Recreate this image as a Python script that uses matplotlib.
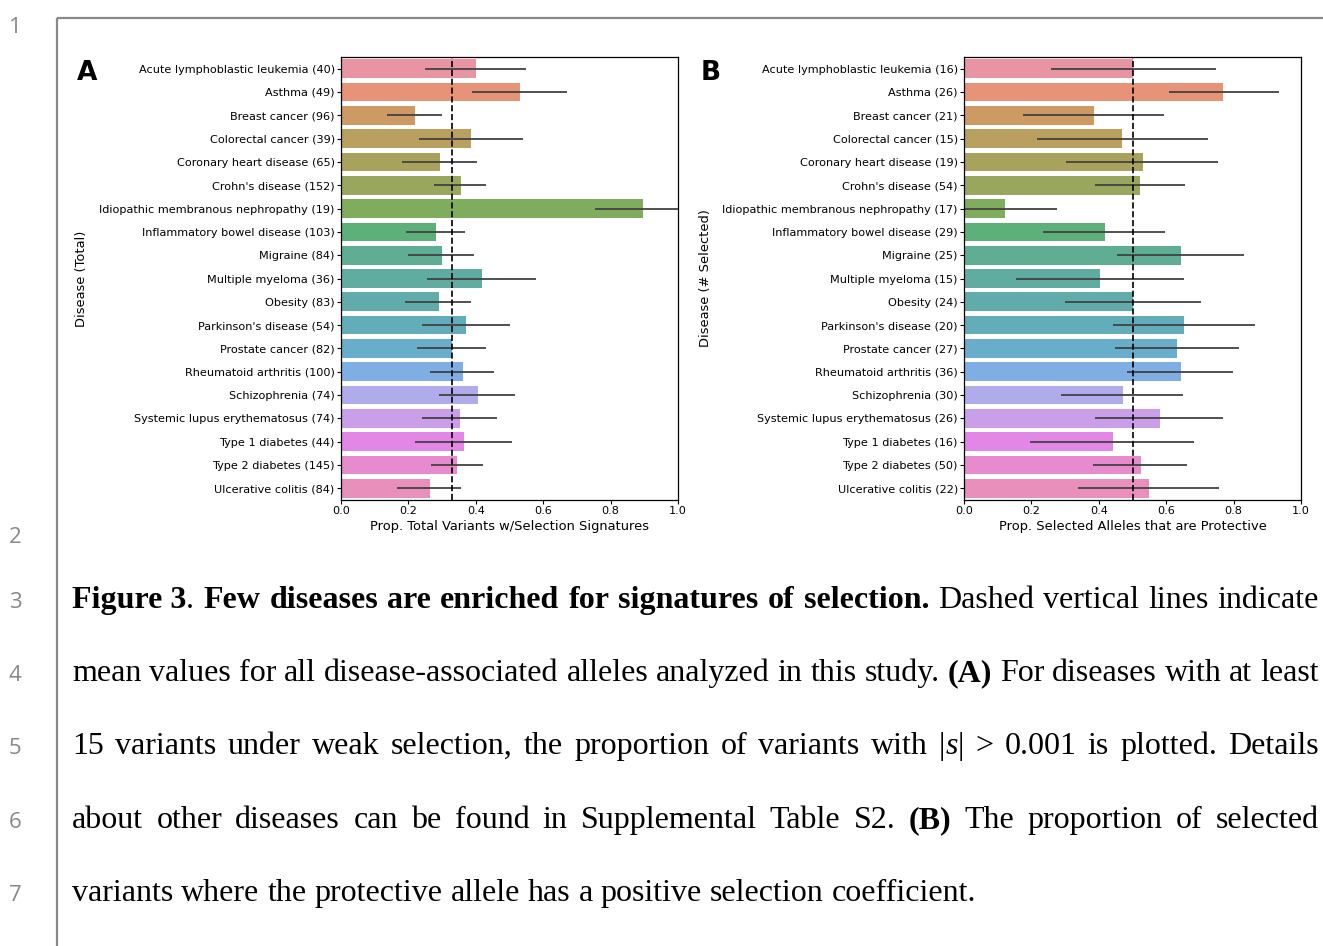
import numpy as np
import matplotlib
matplotlib.use("Agg")
import matplotlib.pyplot as plt
import seaborn as sns

diseases = ["Acute lymphoblastic leukemia", "Asthma", "Breast cancer", "Colorectal cancer",
            "Coronary heart disease", "Crohn's disease", "Idiopathic membranous nephropathy",
            "Inflammatory bowel disease", "Migraine", "Multiple myeloma", "Obesity",
            "Parkinson's disease", "Prostate cancer", "Rheumatoid arthritis", "Schizophrenia",
            "Systemic lupus erythematosus", "Type 1 diabetes", "Type 2 diabetes", "Ulcerative colitis"]
n_total = [40, 49, 96, 39, 65, 152, 19, 103, 84, 36, 83, 54, 82, 100, 74, 74, 44, 145, 84]
n_selected = [16, 26, 21, 15, 19, 54, 17, 29, 25, 15, 24, 20, 27, 36, 30, 26, 16, 50, 22]

# panel A: proportion of variants with selection signatures, with CI
prop_sel = [0.40, 0.531, 0.22, 0.385, 0.294, 0.355, 0.895, 0.281, 0.299, 0.418,
            0.29, 0.37, 0.329, 0.362, 0.406, 0.352, 0.364, 0.344, 0.263]
prop_sel_lo = [0.25, 0.39, 0.136, 0.23, 0.18, 0.277, 0.755, 0.194, 0.199, 0.254,
               0.191, 0.24, 0.226, 0.264, 0.292, 0.24, 0.22, 0.266, 0.167]
prop_sel_hi = [0.55, 0.67, 0.30, 0.54, 0.403, 0.431, 1.0, 0.369, 0.396, 0.578,
               0.387, 0.50, 0.431, 0.454, 0.517, 0.463, 0.506, 0.422, 0.356]
mean_sel = 0.33

# panel B: proportion of selected alleles that are protective, with CI
prop_prot = [0.502, 0.77, 0.385, 0.47, 0.53, 0.521, 0.121, 0.418, 0.643, 0.403,
             0.50, 0.652, 0.631, 0.643, 0.471, 0.581, 0.441, 0.524, 0.548]
prop_prot_lo = [0.257, 0.608, 0.175, 0.216, 0.304, 0.388, 0.0, 0.235, 0.454, 0.154,
                0.30, 0.442, 0.449, 0.483, 0.289, 0.389, 0.196, 0.382, 0.339]
prop_prot_hi = [0.748, 0.934, 0.593, 0.723, 0.755, 0.655, 0.275, 0.596, 0.832, 0.652,
                0.703, 0.863, 0.815, 0.798, 0.649, 0.77, 0.683, 0.661, 0.756]
mean_prot = 0.5

caption = [
    [[("Figure 3", "bold", "normal"), (".", "normal", "normal")], [("Few", "bold", "normal")],
     [("diseases", "bold", "normal")], [("are", "bold", "normal")], [("enriched", "bold", "normal")],
     [("for", "bold", "normal")], [("signatures", "bold", "normal")], [("of", "bold", "normal")],
     [("selection.", "bold", "normal")], "Dashed", "vertical", "lines", "indicate"],
    "mean values for all disease-associated alleles analyzed in this study.".split()
    + [[("(A)", "bold", "normal")]] + "For diseases with at least".split(),
    "15 variants under weak selection, the proportion of variants with".split()
    + [[("|", "normal", "normal"), ("s", "normal", "italic"), ("|", "normal", "normal")]]
    + "> 0.001 is plotted. Details".split(),
    "about other diseases can be found in Supplemental Table S2.".split()
    + [[("(B)", "bold", "normal")]] + "The proportion of selected".split(),
    "variants where the protective allele has a positive selection coefficient.".split(),
]

W, H = 1323, 946
fig = plt.figure(figsize=(W / 100, H / 100), dpi=100)

page = fig.add_axes([0, 0, 1, 1])
page.set_xlim(0, W)
page.set_ylim(H, 0)
page.axis("off")

colors = [sns.desaturate(c, 0.75) for c in sns.color_palette("husl", len(diseases))]
pos = np.arange(len(diseases))


def panel(rect, vals, lo, hi, counts, mean, xlabel, ylabel):
    ax = fig.add_axes(rect)
    ax.barh(pos, vals, height=0.8, color=colors, alpha=0.85)
    ax.hlines(pos, lo, hi, color="0.26", lw=1.3)
    ax.axvline(mean, color="k", ls="--", lw=1.2)
    ax.set_xlim(0, 1)
    ax.set_ylim(len(diseases) - 0.5, -0.5)
    ax.set_yticks(pos)
    ax.set_yticklabels([f"{d} ({n})" for d, n in zip(diseases, counts)], fontsize=8.1)
    ax.set_xticks(np.arange(0, 1.01, 0.2))
    ax.set_xticklabels([f"{v:.1f}" for v in np.arange(0, 1.01, 0.2)], fontsize=8.1)
    ax.tick_params(length=3, width=0.8, pad=1.5)
    ax.set_xlabel(xlabel, fontsize=9.4, labelpad=2.5)
    ax.set_ylabel(ylabel, fontsize=9.4)
    for s in ax.spines.values():
        s.set_linewidth(0.9)
    return ax


axA = panel([341 / W, 1 - 500 / H, 337 / W, 443 / H], prop_sel, prop_sel_lo, prop_sel_hi,
            n_total, mean_sel, "Prop. Total Variants w/Selection Signatures", "Disease (Total)")
axA.yaxis.set_label_coords(-(341 - 88) / 337, 0.5)
axB = panel([964 / W, 1 - 500 / H, 337 / W, 443 / H], prop_prot, prop_prot_lo, prop_prot_hi,
            n_selected, mean_prot, "Prop. Selected Alleles that are Protective", "Disease (# Selected)")
axB.yaxis.set_label_coords(-(964 - 712) / 337, 0.5)

page.text(87, 80, "A", fontsize=19, weight="bold", ha="center", va="baseline")
page.text(711, 80, "B", fontsize=19, weight="bold", ha="center", va="baseline")

# page frame and line numbers
page.plot([57, 57], [18, H], color="#888888", lw=1.6, solid_capstyle="butt")
page.plot([57, W], [18, 18], color="#888888", lw=1.6, solid_capstyle="butt")
num_base = [33, 543, 608, 681, 754, 828, 901]
for i, yb in enumerate(num_base):
    page.text(15, yb, str(i + 1), fontsize=16, color="#888888", family="Open Sans",
              ha="center", va="baseline")

# justified caption
renderer = fig.canvas.get_renderer()
cap_size = 23
x0, x1 = 72, 1319


def make_word(word, y):
    if isinstance(word, str):
        word = [(word, "normal", "normal")]
    parts = []
    w = 0
    for txt, wt, st in word:
        t = page.text(0, y, txt, fontsize=cap_size, family="Liberation Serif", weight=wt,
                      style=st, ha="left", va="baseline")
        bw = t.get_window_extent(renderer).width
        parts.append((t, bw))
        w += bw
    return parts, w


sp = page.text(0, 0, "x x", fontsize=cap_size, family="Liberation Serif")
sp2 = page.text(0, 0, "xx", fontsize=cap_size, family="Liberation Serif")
space_w = sp.get_window_extent(renderer).width - sp2.get_window_extent(renderer).width
sp.remove()
sp2.remove()

for li, line in enumerate(caption):
    y = num_base[li + 2]
    words = [make_word(wd, y) for wd in line]
    total = sum(w for _, w in words)
    last = li == len(caption) - 1
    gap = space_w if last else (x1 - x0 - total) / (len(words) - 1)
    x = x0
    for parts, w in words:
        for t, bw in parts:
            t.set_x(x)
            x += bw
        x += gap

fig.savefig("out.png", dpi=100)
